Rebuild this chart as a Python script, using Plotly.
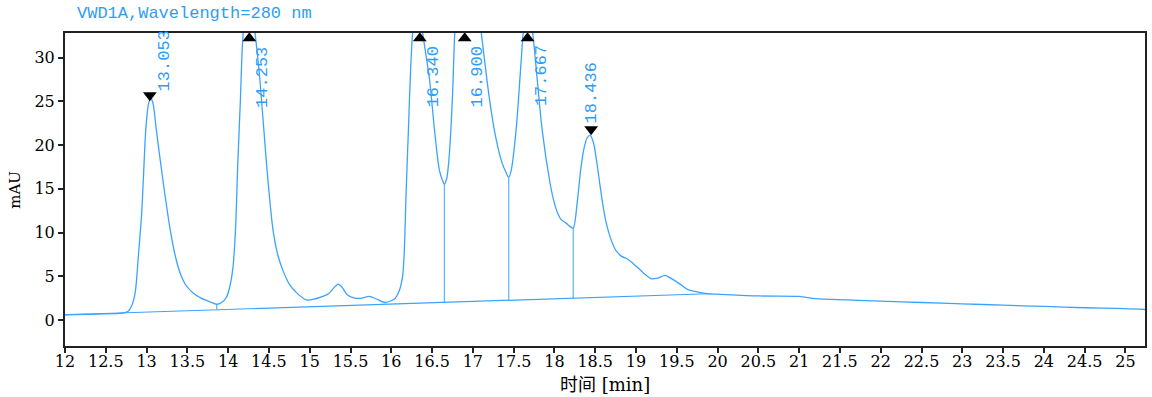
import plotly.graph_objects as go

# ---- data ----
time_min = [12.00, 12.40, 12.70, 12.77, 12.82, 12.86, 12.90, 12.94, 12.96, 12.99,
            13.02, 13.05, 13.08, 13.12, 13.20, 13.29, 13.35, 13.41, 13.48, 13.57,
            13.67, 13.77, 13.86, 13.92, 13.98, 14.02, 14.06, 14.09, 14.12, 14.15,
            14.175, 14.21, 14.255, 14.29, 14.33, 14.39, 14.47, 14.55, 14.61, 14.67,
            14.75, 14.84, 14.96, 15.06, 15.16, 15.23, 15.28, 15.35, 15.40, 15.46,
            15.55, 15.64, 15.73, 15.82, 15.92, 16.00, 16.05, 16.10, 16.14, 16.16,
            16.18, 16.21, 16.24, 16.27, 16.31, 16.34, 16.38, 16.47, 16.53, 16.59,
            16.63, 16.65, 16.68, 16.71, 16.75, 16.78, 16.83, 16.90, 16.96, 17.03,
            17.10, 17.20, 17.28, 17.36, 17.41, 17.44, 17.47, 17.53, 17.59, 17.62,
            17.67, 17.73, 17.79, 17.85, 17.94, 17.99, 18.04, 18.08, 18.14, 18.19,
            18.23, 18.28, 18.32, 18.36, 18.40, 18.44, 18.48, 18.52, 18.56, 18.60,
            18.64, 18.69, 18.75, 18.82, 18.89, 18.96, 19.02, 19.10,
            19.19, 19.27, 19.36, 19.44, 19.54, 19.63, 19.71, 19.88, 20.00, 20.50,
            21.00, 21.20, 21.60, 22.00, 22.50, 23.00, 23.50, 24.00, 24.50, 25.00,
            25.24]
signal_mau = [0.60, 0.68, 0.78, 0.98, 1.7, 3.1, 7.4, 12.2, 16.0, 21.7,
              24.5, 25.4, 24.7, 21.7, 16.0, 10.3, 7.4, 5.4, 4.0, 3.1,
              2.5, 2.1, 1.8, 2.0, 2.6, 3.8, 6.1, 10.3, 18.3, 25.1,
              31.4, 35.5, 37.0, 35.8, 32.8, 27.4, 17.9, 10.3, 7.4, 5.7,
              4.1, 3.1, 2.3, 2.4, 2.7, 3.0, 3.5, 4.1, 3.7, 2.9,
              2.5, 2.5, 2.7, 2.4, 2.0, 2.2, 2.5, 3.4, 5.1, 8.0,
              14.1, 21.7, 29.3, 33.8, 36.0, 36.3, 33.1, 27.4, 21.7, 17.1,
              15.9, 15.5, 16.2, 18.7, 25.5, 33.1, 38.5, 41.5, 41.5, 38.5,
              33.1, 25.5, 20.9, 17.9, 16.8, 16.3, 17.1, 21.7, 29.3, 33.1,
              36.5, 33.1, 27.4, 21.7, 16.0, 13.7, 12.2, 11.5, 11.1, 10.7,
              10.5, 13.5, 17.0, 19.5, 20.8, 21.1, 20.2, 18.0, 15.3, 12.8,
              10.9, 9.3, 8.0, 7.3, 7.0, 6.5, 6.0, 5.3,
              4.7, 4.8, 5.1, 4.7, 4.1, 3.5, 3.3, 3.0, 2.95, 2.75,
              2.7, 2.45, 2.3, 2.15, 2.0, 1.85, 1.7, 1.55, 1.4, 1.3,
              1.2]

baseline_t = [12.0, 19.88]
baseline_v = [0.60, 3.0]

drop_t = [13.86, 16.65, 17.44, 18.23]
drop_top = [1.8, 15.5, 16.3, 10.5]

peak_labels = ["13.053", "14.253", "16.340", "16.900", "17.667", "18.436"]
marker_t = [13.04, 14.26, 16.35, 16.90, 17.67, 18.45]
marker_v = [25.7, 32.2, 32.2, 32.2, 32.2, 21.8]
marker_dir = ["down", "up", "up", "up", "up", "down"]
label_t = [13.22, 14.42, 16.52, 17.06, 17.84, 18.45]
label_v = [25.9, 24.0, 24.1, 24.1, 24.2, 22.2]

x_ticks = [12 + 0.5 * i for i in range(27)]
x_ticktext = ["%g" % v for v in x_ticks]
y_ticks = [0, 5, 10, 15, 20, 25, 30]

title_text = "VWD1A,Wavelength=280 nm"
x_title = "时间 [min]"
y_title = "mAU"

# ---- styling ----
BLUE = "#3BA3FF"
TXT_BLUE = "#2E9DF7"
MONO = "Liberation Mono, DejaVu Sans Mono, monospace"
SERIF = "DejaVu Serif, Liberation Serif, Noto Sans CJK SC, serif"

fig = go.Figure()

fig.add_trace(go.Scatter(x=time_min, y=signal_mau, mode="lines",
                         line=dict(color=BLUE, width=1.3, shape="spline", smoothing=0.8),
                         hoverinfo="skip", showlegend=False))
fig.add_trace(go.Scatter(x=baseline_t, y=baseline_v, mode="lines",
                         line=dict(color=BLUE, width=1.2), showlegend=False))

# drop lines from valley to baseline
slope = (baseline_v[1] - baseline_v[0]) / (baseline_t[1] - baseline_t[0])
dx, dy = [], []
for t, top in zip(drop_t, drop_top):
    base = baseline_v[0] + slope * (t - baseline_t[0])
    dx += [t, t, None]
    dy += [base, top, None]
fig.add_trace(go.Scatter(x=dx, y=dy, mode="lines",
                         line=dict(color=BLUE, width=1), showlegend=False))

fig.add_trace(go.Scatter(x=marker_t, y=marker_v, mode="markers",
                         marker=dict(symbol=["triangle-" + d for d in marker_dir],
                                     size=12, color="black"),
                         cliponaxis=False, showlegend=False))

for lab, t, v in zip(peak_labels, label_t, label_v):
    fig.add_annotation(x=t, y=v, text=lab, textangle=-90, showarrow=False,
                       xanchor="center", yanchor="bottom",
                       font=dict(family=MONO, size=17, color=TXT_BLUE))

fig.add_annotation(xref="paper", yref="paper", x=0.009, y=1, text=title_text,
                   xanchor="left", yanchor="bottom", yshift=8, showarrow=False,
                   font=dict(family=MONO, size=17, color=TXT_BLUE))
fig.add_annotation(xref="paper", yref="paper", x=-0.047, y=0.5, text=y_title,
                   textangle=-90, xanchor="center", yanchor="middle", showarrow=False,
                   font=dict(family=SERIF, size=15, color="black"))
fig.add_annotation(xref="paper", yref="paper", x=0.5, y=0, text=x_title,
                   xanchor="center", yanchor="middle", yshift=-38, showarrow=False,
                   font=dict(family=SERIF, size=18, color="black"))

fig.update_layout(
    width=1152, height=397,
    margin=dict(l=65, r=5, t=33, b=51),
    paper_bgcolor="white", plot_bgcolor="white",
    showlegend=False,
)
fig.update_xaxes(range=[12, 25.24], tickvals=x_ticks, ticktext=x_ticktext,
                 ticks="outside", ticklen=5, tickwidth=1.5, tickcolor="#222",
                 showline=True, linecolor="#222", linewidth=2, mirror=True,
                 showgrid=False, zeroline=False, ticklabelstandoff=-5,
                 tickfont=dict(family=SERIF, size=16, color="black"))
fig.update_yaxes(range=[-2.97, 32.8], tickvals=y_ticks,
                 ticks="outside", ticklen=5, tickwidth=1.5, tickcolor="#222",
                 showline=True, linecolor="#222", linewidth=2, mirror=True,
                 showgrid=False, zeroline=False,
                 tickfont=dict(family=SERIF, size=16, color="black"))

fig.write_html("out.html")
